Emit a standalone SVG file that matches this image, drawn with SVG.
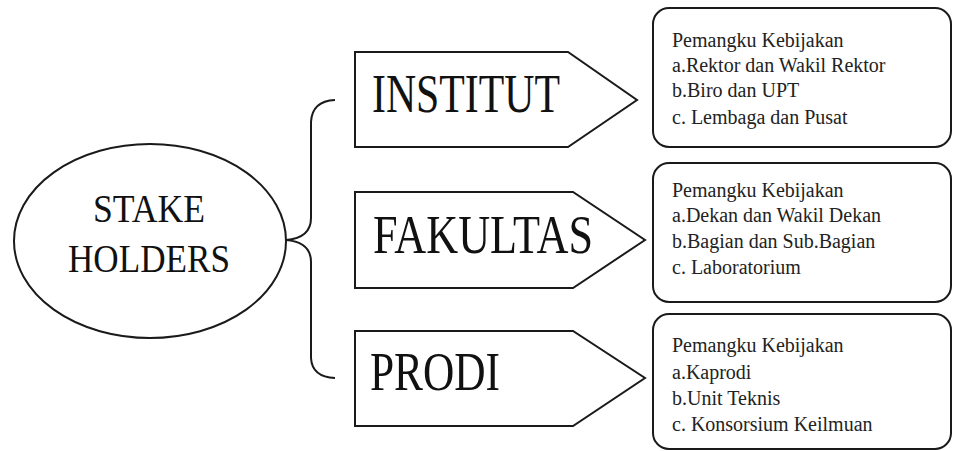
<svg xmlns="http://www.w3.org/2000/svg" width="953" height="451" viewBox="0 0 953 451">
<style>
.shape{fill:#fff;stroke:#1a1a1a;stroke-width:2}
.conn{fill:none;stroke:#1a1a1a;stroke-width:2}
.big{font-family:"Liberation Serif","Times New Roman",serif;font-size:54px;fill:#111}
.mid{font-family:"Liberation Serif","Times New Roman",serif;font-size:41px;fill:#111;text-anchor:middle}
.small{font-family:"Liberation Serif","Times New Roman",serif;font-size:20px;fill:#222}
</style>
<rect width="953" height="451" fill="#fff"/>
<g id="connectors">
<path class="conn" d="M335,100 Q312,101 311,122 L311,218 Q311,238 286,240 Q311,242 311,262 L311,358 Q312,377 335,378"/>
</g>
<g id="stakeholders">
<ellipse class="shape" cx="150" cy="241" rx="136" ry="97"/>
<text class="mid" x="149" y="222" textLength="112" lengthAdjust="spacingAndGlyphs">STAKE</text>
<text class="mid" x="149" y="272" textLength="162" lengthAdjust="spacingAndGlyphs">HOLDERS</text>
</g>
<g id="institut">
<polygon class="shape" points="355,52 568,52 637,100 568,147 355,147"/>
<text class="big" x="372" y="112" textLength="188" lengthAdjust="spacingAndGlyphs">INSTITUT</text>
</g>
<g id="fakultas">
<polygon class="shape" points="355,192 573,192 645,240 573,288 355,288"/>
<text class="big" x="373" y="253" textLength="220" lengthAdjust="spacingAndGlyphs">FAKULTAS</text>
</g>
<g id="prodi">
<polygon class="shape" points="355,331 573,331 645,378 573,426 355,426"/>
<text class="big" x="370" y="390" textLength="130" lengthAdjust="spacingAndGlyphs">PRODI</text>
</g>
<g id="box-institut">
<rect class="shape" x="653" y="8" width="298" height="139" rx="16"/>
<text class="small" x="672" y="47">Pemangku Kebijakan</text>
<text class="small" x="672" y="72">a.Rektor dan Wakil Rektor</text>
<text class="small" x="672" y="97">b.Biro dan UPT</text>
<text class="small" x="672" y="124">c. Lembaga dan Pusat</text>
</g>
<g id="box-fakultas">
<rect class="shape" x="653" y="163" width="298" height="139" rx="16"/>
<text class="small" x="672" y="197">Pemangku Kebijakan</text>
<text class="small" x="672" y="222">a.Dekan dan Wakil Dekan</text>
<text class="small" x="672" y="248">b.Bagian dan Sub.Bagian</text>
<text class="small" x="672" y="274">c. Laboratorium</text>
</g>
<g id="box-prodi">
<rect class="shape" x="653" y="314" width="298" height="135" rx="16"/>
<text class="small" x="672" y="352">Pemangku Kebijakan</text>
<text class="small" x="672" y="379">a.Kaprodi</text>
<text class="small" x="672" y="405">b.Unit Teknis</text>
<text class="small" x="672" y="431">c. Konsorsium Keilmuan</text>
</g>
</svg>
